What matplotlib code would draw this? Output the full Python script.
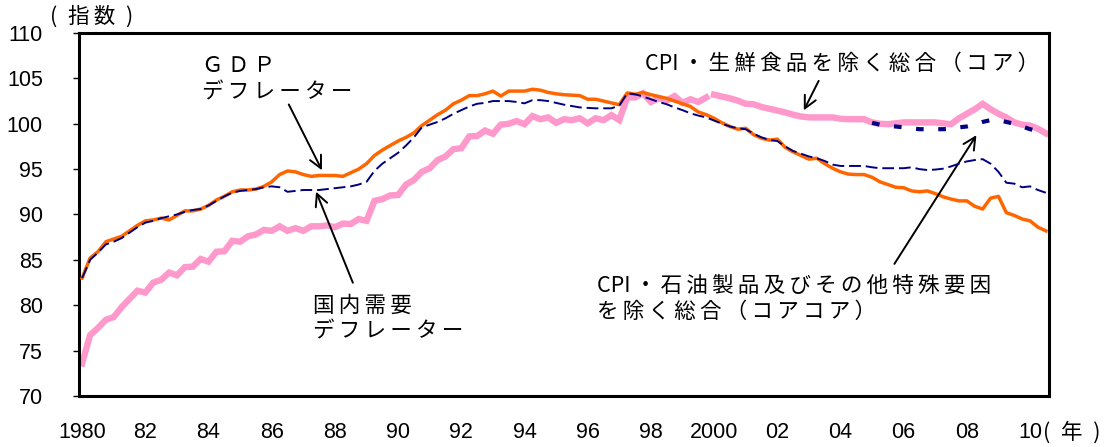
import numpy as np
import matplotlib.pyplot as plt

plt.rcParams['font.family'] = ['Liberation Sans', 'DejaVu Sans']
plt.rcParams['lines.scale_dashes'] = False
JP = ['Noto Sans CJK JP', 'DejaVu Sans']

# quarterly index values, 1980Q1 - 2010Q3
gdp_deflator = [
    83.0, 85.2, 85.9, 87.0, 87.3, 87.6, 88.2, 88.8, 89.3, 89.4, 89.6, 89.4,
    89.9, 90.4, 90.4, 90.6, 91.0, 91.6, 92.0, 92.5, 92.7, 92.7, 92.8, 93.1,
    93.6, 94.4, 94.8, 94.7, 94.4, 94.2, 94.3, 94.3, 94.3, 94.2, 94.6, 95.0,
    95.6, 96.5, 97.1, 97.6, 98.1, 98.5, 99.0, 99.8, 100.4, 101.0, 101.5, 102.2,
    102.6, 103.1, 103.1, 103.3, 103.6, 103.05, 103.6, 103.6, 103.6, 103.8, 103.7, 103.45,
    103.3, 103.2, 103.15, 103.1, 102.7, 102.7, 102.5, 102.3, 102.1, 103.4, 103.25, 103.45,
    103.2, 103.0, 102.8, 102.5, 102.2, 101.9, 101.3, 101.0, 100.6, 100.1, 99.7, 99.4,
    99.5, 98.8, 98.4, 98.2, 98.3, 97.4, 96.9, 96.5, 96.1, 96.2, 95.6, 95.1,
    94.7, 94.45, 94.4, 94.4, 94.1, 93.6, 93.3, 93.0, 92.95, 92.6, 92.5, 92.6,
    92.3, 91.95, 91.7, 91.5, 91.5, 90.9, 90.6, 91.8, 92.0, 90.2, 89.9, 89.5,
    89.3, 88.6, 88.2,
]
domestic_deflator = [
    83.0, 85.0, 85.8, 86.7, 87.0, 87.4, 88.0, 88.6, 89.1, 89.3, 89.6, 89.8,
    90.0, 90.3, 90.5, 90.6, 91.0, 91.5, 92.0, 92.4, 92.6, 92.7, 92.8, 93.0,
    93.1, 93.0, 92.5, 92.6, 92.7, 92.7, 92.7, 92.8, 92.9, 93.0, 93.1, 93.3,
    93.6, 94.8, 95.6, 96.2, 96.8, 97.6, 98.5, 99.6, 99.9, 100.2, 100.6, 101.1,
    101.5, 101.9, 102.2, 102.3, 102.5, 102.5, 102.5, 102.4, 102.25, 102.6, 102.6, 102.5,
    102.3, 102.1, 101.95, 101.8, 101.75, 101.7, 101.7, 101.7, 102.0, 103.35, 103.25, 103.0,
    102.7, 102.4, 102.15, 101.8, 101.5, 101.15, 100.9, 100.7, 100.35, 100.0, 99.7, 99.5,
    99.4, 98.9, 98.5, 98.2, 98.1, 97.5, 97.0, 96.7, 96.4, 96.2, 95.9, 95.5,
    95.35, 95.35, 95.35, 95.35, 95.2, 95.1, 95.1, 95.1, 95.1, 95.2, 95.0, 94.9,
    94.95, 95.05, 95.3, 95.6, 95.85, 96.0, 96.1, 95.6, 94.7, 93.5, 93.4, 93.0,
    93.1, 92.7, 92.4,
]
# CPI core: old base 1980Q1-1999Q4, new base 2000Q1-2010Q3
cpi_core_old = [
    73.6, 76.7, 77.5, 78.4, 78.7, 79.8, 80.7, 81.6, 81.4, 82.5, 82.8, 83.6,
    83.3, 84.2, 84.25, 85.1, 84.8, 85.9, 85.95, 87.1, 87.0, 87.6, 87.8, 88.3,
    88.2, 88.7, 88.2, 88.5, 88.2, 88.7, 88.7, 88.8, 88.6, 89.0, 88.95, 89.5,
    89.3, 91.5, 91.7, 92.1, 92.15, 93.3, 93.8, 94.7, 95.1, 96.0, 96.4, 97.2,
    97.3, 98.6, 98.65, 99.25, 98.9, 99.9, 100.0, 100.3, 99.95, 100.85, 100.5, 100.7,
    100.1, 100.5, 100.4, 100.6, 100.05, 100.6, 100.4, 100.95, 100.4, 102.9, 102.9, 103.35,
    102.4, 102.8, 102.55, 103.05, 102.3, 102.7, 102.4, 102.9,
]
cpi_core_new = [
    103.2, 103.0, 102.8, 102.55, 102.2, 102.15, 101.85, 101.65, 101.45, 101.25, 101.0, 100.8,
    100.7, 100.7, 100.7, 100.7, 100.55, 100.5, 100.5, 100.5, 100.15, 100.0, 99.95, 100.05,
    100.15, 100.15, 100.15, 100.15, 100.15, 100.05, 99.95, 100.6, 101.1, 101.6, 102.2, 101.6,
    101.1, 100.7, 100.15, 99.9, 99.8, 99.45, 98.95,
]
# CPI core-core, 2005Q1-2010Q3
cpi_core_core = [
    100.1, 99.9, 99.75, 99.7, 99.6, 99.5, 99.4, 99.4, 99.4, 99.4, 99.45, 99.6,
    99.7, 99.9, 100.2, 100.4, 100.4, 100.2, 100.0, 99.7, 99.4, 99.2, 99.1,
]

year_ticks = list(range(1980, 2011, 2))
year_labels = ['1980', '82', '84', '86', '88', '90', '92', '94', '96', '98',
               '2000', '02', '04', '06', '08', '10']

q_all = 1980 + np.arange(len(gdp_deflator)) / 4
q_old = q_all[:len(cpi_core_old)]
q_new = q_all[len(cpi_core_old):]
q_cc = q_all[-len(cpi_core_core):]


def spaced(s):
    # wide letter spacing like the original labels (thin space between glyphs)
    out = ''
    for a, b in zip(s, s[1:] + ' '):
        out += a
        if b.strip() and a != '\n' and b != '\n' and not (a.isascii() and b.isascii()):
            out += '\u2009'
    return out


fig = plt.figure(figsize=(11.05, 4.47), dpi=100)
ax = fig.add_axes([79 / 1105, 1 - 396 / 447, 970 / 1105, 363 / 447])

pink = '#FF99CC'
orange = '#FF6600'
navy = '#000080'

ax.plot(q_old, cpi_core_old, color=pink, lw=4.6, zorder=2, solid_joinstyle='miter')
ax.plot(q_new, cpi_core_new, color=pink, lw=4.6, zorder=2, solid_joinstyle='miter')
ax.plot(q_all, gdp_deflator, color=orange, lw=2.5, zorder=3)
ax.plot(q_all, domestic_deflator, color=navy, lw=1.4, dashes=(8.5, 3.5), zorder=4)
ax.plot(q_cc, cpi_core_core, color=navy, lw=3.0, dashes=(5.5, 10.5), zorder=5,
        dash_capstyle='butt')

ax.set_xlim(1979.9, 2010.6)
ax.set_ylim(70, 110)
ax.set_yticks(range(70, 111, 5))
ax.set_xticks(year_ticks)
ax.set_xticklabels(year_labels)
ax.tick_params(axis='y', length=4, width=1, pad=22, labelsize=15.5)
ax.tick_params(axis='x', length=0, pad=19, labelsize=15.5)
for s in ax.spines.values():
    s.set_linewidth(2.2)

fig.text(50 / 1105, 1 - 17 / 447, '(\u2002指\u2009数\u2002)', family=JP, fontsize=15.5,
         va='center', ha='left')
fig.text(1043 / 1105, 1 - 433 / 447, '(\u2002年\u2002)', family=JP, fontsize=15.5,
         va='center', ha='left')

arrow = dict(arrowstyle='->', color='black', lw=1.4, mutation_scale=22)
kw = dict(family=JP, fontsize=15.5, ha='left', va='center', linespacing=1.25)

ax.text(1983.8, 104.9, spaced('ＧＤＰ\nデフレーター'), **kw)
ax.annotate('', xy=(1987.63, 94.6), xytext=(1986.5, 102.4), arrowprops=arrow)

ax.text(1987.3, 78.5, spaced('国内需要\nデフレーター'), **kw)
ax.annotate('', xy=(1987.37, 92.8), xytext=(1988.6, 82.2), arrowprops=arrow)

ax.text(1997.8, 106.6, spaced('CPI・生鮮食品を除く総合（コア）'), **kw)
ax.annotate('', xy=(2002.8, 101.2), xytext=(2003.35, 105.0), arrowprops=arrow)

ax.text(1996.3, 80.7, spaced('CPI・石油製品及びその他特殊要因\nを除く総合（コアコア）'), **kw)
ax.annotate('', xy=(2008.35, 99.0), xytext=(2005.66, 84.3), arrowprops=arrow)

fig.savefig('out.png', dpi=100)
